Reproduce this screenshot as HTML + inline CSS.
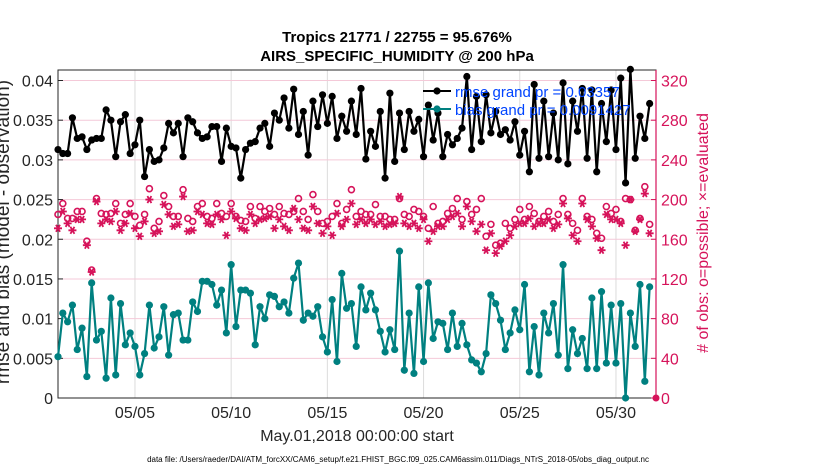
<!DOCTYPE html>
<html><head><meta charset="utf-8"><style>
body{margin:0;background:#fff;}
svg{display:block;font-family:"Liberation Sans",Arial,sans-serif;}
</style></head><body>
<svg id="chart" width="830" height="470">
</svg>
<script>
const rmse=[0.0313,0.0308,0.0308,0.0353,0.0327,0.0329,0.0313,0.0325,0.0327,0.0327,0.0363,0.0350,0.0304,0.0348,0.0357,0.0308,0.0319,0.0350,0.0279,0.0313,0.0298,0.0300,0.0315,0.0346,0.0334,0.0346,0.0304,0.0353,0.0348,0.0334,0.0327,0.0329,0.0342,0.0342,0.0298,0.0340,0.0317,0.0315,0.0277,0.0313,0.0321,0.0323,
0.0340,0.0346,0.0317,0.0359,0.0350,0.0378,0.0340,0.0389,0.0332,0.0361,0.0306,0.0374,0.0342,0.0382,0.0346,0.0380,0.0327,0.0355,0.0336,0.0374,0.0332,0.0390,0.0301,0.0336,0.0317,0.0361,0.0277,0.0384,0.0298,0.0359,0.0313,0.0361,0.0336,0.0351,0.0304,0.0369,0.0325,0.0359,0.0304,0.0332,0.0319,0.0327,
0.0340,0.0405,0.0313,0.0380,0.0323,0.0382,0.0334,0.0361,0.0332,0.0338,0.0325,0.0348,0.0306,0.0336,0.0285,0.0395,0.0302,0.0374,0.0304,0.0359,0.0300,0.0397,0.0295,0.0374,0.0336,0.0390,0.0302,0.0388,0.0285,0.0371,0.0323,0.0388,0.0313,0.0403,0.0271,0.0414,0.0302,0.0355,0.0327,0.0371];
const bias=[0.0052,0.0107,0.0096,0.0117,0.0061,0.0088,0.0027,0.0145,0.0073,0.0084,0.0025,0.0126,0.0029,0.0119,0.0067,0.0082,0.0065,0.0029,0.0056,0.0117,0.0063,0.0077,0.0115,0.0054,0.0105,0.0107,0.0073,0.0073,0.0121,0.0109,0.0147,0.0147,0.0143,0.0117,0.0136,0.0082,0.0168,0.0090,0.0136,0.0136,0.0132,0.0067,
0.0115,0.0100,0.0130,0.0128,0.0115,0.0121,0.0107,0.0151,0.0170,0.0098,0.0107,0.0103,0.0115,0.0077,0.0058,0.0124,0.0046,0.0157,0.0113,0.0119,0.0065,0.0140,0.0111,0.0132,0.0111,0.0084,0.0058,0.0086,0.0061,0.0185,0.0035,0.0107,0.0031,0.0140,0.0046,0.0145,0.0075,0.0096,0.0094,0.0061,0.0107,0.0065,
0.0094,0.0067,0.0048,0.0044,0.0033,0.0056,0.0130,0.0119,0.0098,0.0061,0.0082,0.0111,0.0086,0.0143,0.0033,0.0090,0.0029,0.0107,0.0082,0.0119,0.0054,0.0168,0.0037,0.0086,0.0056,0.0075,0.0037,0.0126,0.0037,0.0134,0.0044,0.0117,0.0044,0.0119,0.0000,0.0107,0.0065,0.0143,0.0021,0.0140];
const possible=[185,196,181,181,188,188,158,129,201,186,185,186,196,176,185,196,183,174,185,211,171,178,204,193,183,183,210,181,178,193,196,183,181,196,186,183,196,183,179,178,193,181,
193,188,191,185,193,186,185,188,201,188,180,205,188,176,178,183,196,176,190,210,183,188,185,185,195,183,183,180,180,201,185,183,190,188,183,171,193,176,178,186,191,201,
180,198,185,190,201,163,175,154,156,176,171,180,190,180,193,186,178,183,188,178,185,201,185,176,169,201,183,180,166,161,193,186,190,178,201,200,169,181,213,175];
const evaluated=[171,188,176,169,180,180,154,127,198,176,180,178,188,169,176,186,171,163,178,200,166,168,195,185,173,175,203,168,169,188,185,176,175,185,180,164,188,181,171,169,185,176,
180,181,183,171,180,173,169,191,180,171,169,193,176,166,173,164,186,173,180,196,175,180,176,180,175,178,173,175,176,203,176,173,176,171,180,158,168,173,173,180,183,186,
173,193,178,168,175,149,166,146,153,158,164,173,176,176,181,173,176,176,180,171,175,196,181,164,158,196,180,173,161,149,185,180,180,176,154,200,168,180,206,166];
const leftTicks=[0,0.005,0.01,0.015,0.02,0.025,0.03,0.035,0.04];
const leftLabels=["0","0.005","0.01","0.015","0.02","0.025","0.03","0.035","0.04"];
const rightTicks=[0,40,80,120,160,200,240,280,320];
const xTickDays=[4,9,14,19,24,29];
const xTickLabels=["05/05","05/10","05/15","05/20","05/25","05/30"];

const L=58,R=656,T=70,B=398;
const X=d=>L+d*19.24;
const Y=v=>B-v/0.04*317.5;
const YR=c=>B-c/320*317.5;
const NS="http://www.w3.org/2000/svg";
const svg=document.getElementById('chart');
function mk(tag,attrs,parent){const e=document.createElementNS(NS,tag);for(const k in attrs)e.setAttribute(k,attrs[k]);(parent||svg).appendChild(e);return e;}
const MAG="#d6135a",TEAL="#008080";

xTickDays.forEach((d,i)=>{
 const g=mk('line',{x1:X(d),x2:X(d),y1:T,y2:B,stroke:'#dcdcdc','stroke-width':1});
 
 
});
rightTicks.forEach(c=>{
 const g=mk('line',{x1:L,x2:R,y1:YR(c),y2:YR(c),stroke:'#f4c9d8','stroke-width':1});
 
 
});
let f=mk('rect',{x:L,y:T,width:R-L,height:B-T,fill:'none',stroke:'#262626','stroke-width':1});


let ra=mk('line',{x1:R,x2:R,y1:T,y2:B,stroke:MAG,'stroke-width':1.2});


leftTicks.forEach((v,i)=>{
 mk('line',{x1:L,x2:L+5,y1:Y(v),y2:Y(v),stroke:'#262626'});
 const t=mk('text',{x:L-5,y:Y(v)+6,'text-anchor':'end','font-size':16,fill:'#262626'});
 t.textContent=leftLabels[i];
 
 
});
rightTicks.forEach(c=>{
 mk('line',{x1:R-5,x2:R,y1:YR(c),y2:YR(c),stroke:MAG});
 const t=mk('text',{x:R+5,y:YR(c)+6,'text-anchor':'start','font-size':16,fill:MAG});
 t.textContent=c;
 
 
});
xTickDays.forEach((d,i)=>{
 const t=mk('text',{x:X(d),y:418,'text-anchor':'middle','font-size':16,fill:'#262626'});
 t.textContent=xTickLabels[i];
 
 
});
possible.forEach((c,i)=>{
 const e=mk('circle',{cx:X(i/4),cy:YR(c),r:3,fill:'none',stroke:MAG,'stroke-width':1.6});
 
 
});
evaluated.forEach((c,i)=>{
 const x=X(i/4),y=YR(c),r=4;
 const e=mk('path',{d:`M${x-r},${y}H${x+r}M${x-2},${y-3.5}L${x+2},${y+3.5}M${x+2},${y-3.5}L${x-2},${y+3.5}`,stroke:MAG,'stroke-width':1.8,fill:'none'});
 
 
});
let pe=mk('circle',{cx:R,cy:B,r:3.5,fill:MAG});


function series(arr,color,name){
 const p=mk('polyline',{points:arr.map((v,i)=>X(i/4)+','+Y(v)).join(' '),fill:'none',stroke:color,'stroke-width':2.2});
 
 
 arr.forEach((v,i)=>{
  const c=mk('circle',{cx:X(i/4),cy:Y(v),r:3.6,fill:color});
  
  
 });
}
series(rmse,'#000','rmse');
series(bias,TEAL,'bias');
</script>
<svg width="830" height="470" style="position:absolute;left:0;top:0">
 <g font-family="Liberation Sans, Arial, sans-serif">
 <text x="397" y="42" text-anchor="middle" font-size="15" font-weight="bold">Tropics 21771 / 22755 = 95.676%</text>
 <text x="397" y="61" text-anchor="middle" font-size="15" font-weight="bold">AIRS_SPECIFIC_HUMIDITY @ 200 hPa</text>
 <text transform="translate(9,232) rotate(-90)" text-anchor="middle" font-size="19" fill="#262626">rmse and bias (model - observation)</text>
 <text transform="translate(708,233) rotate(-90)" text-anchor="middle" font-size="16" fill="#d6135a"># of obs: o=possible; ×=evaluated</text>
 <text x="357" y="441" text-anchor="middle" font-size="16" fill="#262626">May.01,2018 00:00:00 start</text>
 <text x="398" y="462" text-anchor="middle" font-size="8" fill="#000">data file: /Users/raeder/DAI/ATM_forcXX/CAM6_setup/f.e21.FHIST_BGC.f09_025.CAM6assim.011/Diags_NTrS_2018-05/obs_diag_output.nc</text>
 <g>
  <line x1="423" y1="91" x2="451" y2="91" stroke="#000" stroke-width="2"/><circle cx="437" cy="91" r="3.6" fill="#000"/>
  <text x="455" y="97" font-size="15" fill="#0044ff">rmse grand pr = 0.03357</text>
  <line x1="423" y1="109" x2="451" y2="109" stroke="#008080" stroke-width="2"/><circle cx="437" cy="109" r="3.6" fill="#008080"/>
  <text x="455" y="115" font-size="15" fill="#0044ff">bias grand pr = 0.0091427</text>
 </g>
 </g>
</svg>
</body></html>
